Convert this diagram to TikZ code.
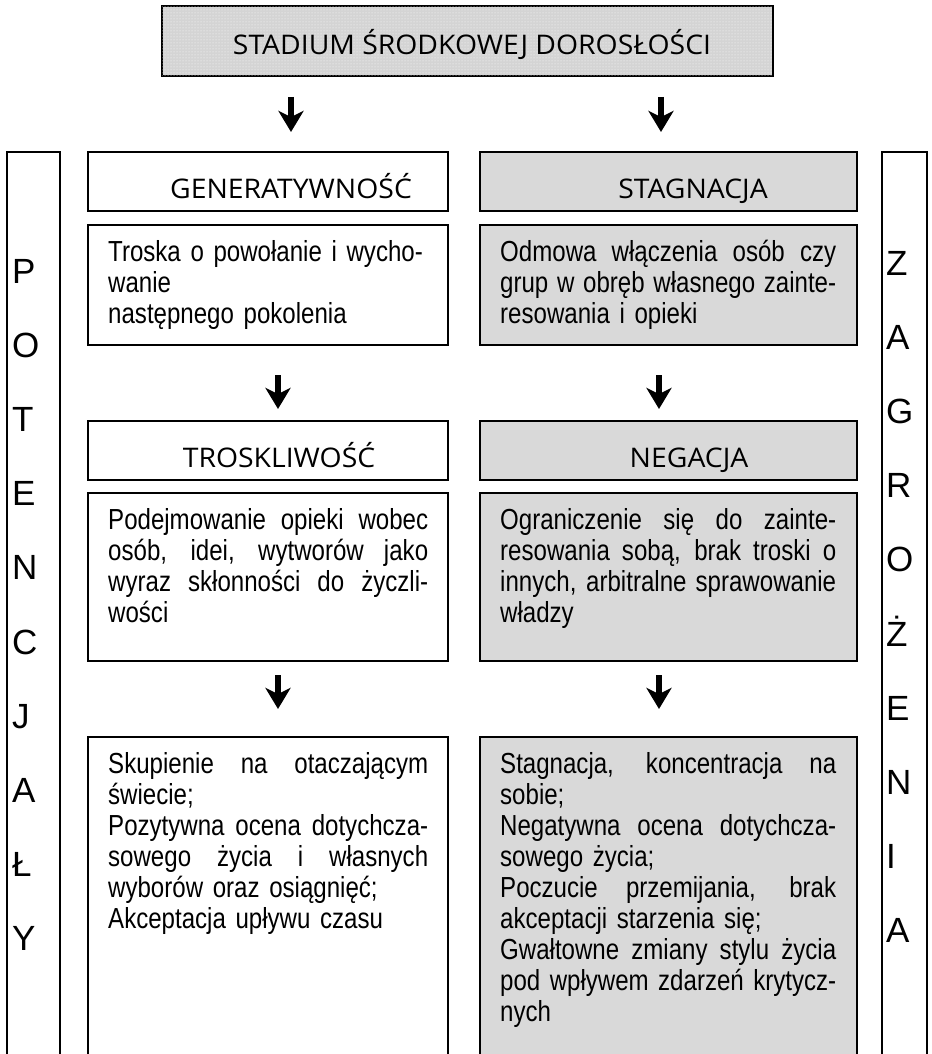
\documentclass[tikz,border=0pt]{standalone}
\usepackage{fontspec}
\setmainfont{Liberation Sans}
\newfontfamily\bodyfont{Liberation Sans}[FakeStretch=0.83]
\newfontfamily\headfont{Open Sans}[FakeStretch=1.05]
\usetikzlibrary{arrows.meta,calc,patterns}
\definecolor{boxgray}{HTML}{D9D9D9}
\definecolor{topgray}{HTML}{D4D4D4}
% a justified line of given width: the word spaces stretch to fill it
\newcommand\jl[2]{\leavevmode\hbox to #1{\spaceskip=\fontdimen2\font plus 1fil\relax #2}}
\begin{document}
\begin{tikzpicture}[x=1pt,y=-1pt,
  frame/.style={draw=black,line width=2pt,anchor=north west,inner sep=0pt},
  plainbox/.style={frame,fill=white},
  shadedbox/.style={frame,fill=boxgray},
  heading/.style={font=\headfont\fontsize{27}{30}\selectfont,inner sep=0pt,anchor=base},
  body/.style={font=\bodyfont\fontsize{29}{31}\selectfont,inner sep=0pt,anchor=north west,align=left,text width=345pt},
  letter/.style={font=\fontsize{35}{40}\selectfont,inner sep=0pt,anchor=base west},
  arr/.style={line width=6pt,-{Stealth[width=25pt,length=21pt,inset=6pt]}}
]
\useasboundingbox (0,0) rectangle (931,1054);

% title box, dotted grey
\node[frame,fill=topgray,minimum width=611pt,minimum height=70pt] (top) at (161,5) {};
\fill[pattern=dots,pattern color=white] ([shift={(1pt,-1pt)}]top.north west) rectangle ([shift={(-1pt,1pt)}]top.south east);
\node[heading] (ttl) at (472,55) {STADIUM ŚRODKOWEJ DOROSŁOŚCI};

% side columns
\node[plainbox,minimum width=53pt,minimum height=910pt] (pot) at (6,151) {};
\node[plainbox,minimum width=45pt,minimum height=910pt] (zag) at (881,151) {};
\foreach \ch [count=\i from 0] in {P,O,T,E,N,C,J,A,Ł,Y}
  \node[letter] (pl\i) at (12,283.5+\i*74.1) {\ch};
\foreach \ch [count=\i from 0] in {Z,A,G,R,O,Ż,E,N,I,A}
  \node[letter] (zl\i) at (886,275.5+\i*74.1) {\ch};

% headings, first level
\node[plainbox,minimum width=360pt,minimum height=59pt] (h1l) at (87,151) {};
\node[shadedbox,minimum width=377pt,minimum height=59pt] (h1r) at (479,151) {};
\node[heading] (gen) at (291,198) {GENERATYWNOŚĆ};
\node[heading] (stg) at (693,198) {STAGNACJA};

% descriptions, first level
\node[plainbox,minimum width=360pt,minimum height=120pt] (b2l) at (87,224) {};
\node[shadedbox,minimum width=377pt,minimum height=120pt] (b2r) at (479,224) {};
\node[body] (t2l) at ($(b2l.north west)+(21,16)$)
  {\strut Troska o powołanie i wycho-\\wanie\\następnego pokolenia};
\node[body] (t2r) at ($(b2r.north west)+(21,16)$)
  {\strut\jl{336pt}{Odmowa włączenia osób czy}\\
   \jl{336pt}{grup w obręb własnego zainte-}\\
   resowania i opieki};

% headings, second level
\node[plainbox,minimum width=360pt,minimum height=59pt] (h3l) at (87,420) {};
\node[shadedbox,minimum width=377pt,minimum height=59pt] (h3r) at (479,420) {};
\node[heading] (tro) at (279,467) {TROSKLIWOŚĆ};
\node[heading] (neg) at (689,467) {NEGACJA};

% descriptions, second level
\node[plainbox,minimum width=360pt,minimum height=168pt] (b4l) at (87,492) {};
\node[shadedbox,minimum width=377pt,minimum height=168pt] (b4r) at (479,492) {};
\node[body] (t4l) at ($(b4l.north west)+(21,16)$)
  {\strut\jl{320pt}{Podejmowanie opieki wobec}\\
   \jl{320pt}{osób, idei, wytworów jako}\\
   \jl{320pt}{wyraz skłonności do życzli-}\\
   wości};
\node[body] (t4r) at ($(b4r.north west)+(21,16)$)
  {\strut\jl{336pt}{Ograniczenie się do zainte-}\\
   \jl{336pt}{resowania sobą, brak troski o}\\
   \jl{336pt}{innych, arbitralne sprawowanie}\\
   władzy};

% outcomes
\node[plainbox,minimum width=360pt,minimum height=330pt] (b5l) at (87,736) {};
\node[shadedbox,minimum width=377pt,minimum height=330pt] (b5r) at (479,736) {};
\node[body] (t5l) at ($(b5l.north west)+(21,16)$)
  {\strut\jl{320pt}{Skupienie na otaczającym}\\
   świecie;\\
   \jl{320pt}{Pozytywna ocena dotychcza-}\\
   \jl{320pt}{sowego życia i własnych}\\
   wyborów oraz osiągnięć;\\
   Akceptacja upływu czasu};
\node[body] (t5r) at ($(b5r.north west)+(21,16)$)
  {\strut\jl{336pt}{Stagnacja, koncentracja na}\\
   sobie;\\
   \jl{336pt}{Negatywna ocena dotychcza-}\\
   sowego życia;\\
   \jl{336pt}{Poczucie przemijania, brak}\\
   akceptacji starzenia się;\\
   \jl{336pt}{Gwałtowne zmiany stylu życia}\\
   \jl{336pt}{pod wpływem zdarzeń krytycz-}\\
   nych};

% arrows
\coordinate (a1s) at (291,97);  \coordinate (a1e) at (291,132);
\coordinate (a2s) at (661,97);  \coordinate (a2e) at (661,132);
\coordinate (a3s) at (278,375); \coordinate (a3e) at (278,409);
\coordinate (a4s) at (659,375); \coordinate (a4e) at (659,409);
\coordinate (a5s) at (278,675); \coordinate (a5e) at (278,709);
\coordinate (a6s) at (659,675); \coordinate (a6e) at (659,709);
\foreach \k in {1,...,6} \draw[arr] (a\k s) -- (a\k e);
\end{tikzpicture}
\end{document}
